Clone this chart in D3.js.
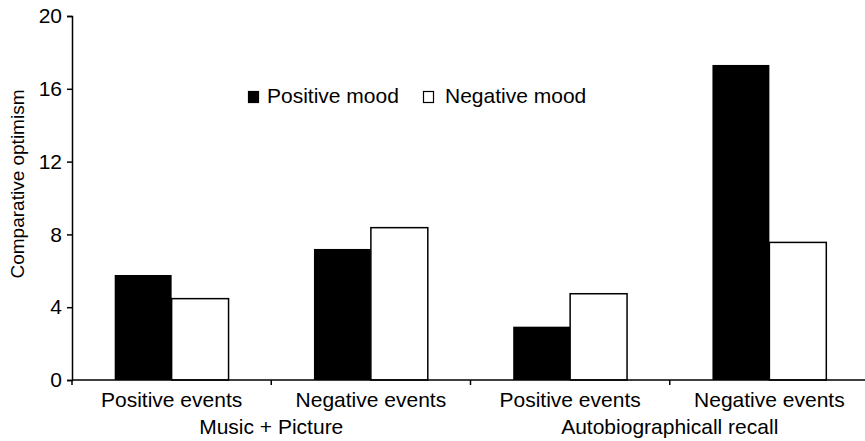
<!DOCTYPE html>
<html>
<head>
<meta charset="utf-8">
<script src="https://cdn.jsdelivr.net/npm/d3@7"></script>
<style>
  body { margin: 0; background: #fff; }
  text { font-family: "Liberation Sans", Arial, Helvetica, sans-serif; fill: #000; }
</style>
</head>
<body>
<svg id="chart" width="865" height="441"></svg>
<script>
//////////////////// DATA ////////////////////
const groups = ["Music + Picture", "Autobiographicall recall"];
const eventTypes = ["Positive events", "Negative events"];
const series = ["Positive mood", "Negative mood"];
const positiveMood = [5.77, 7.2, 2.93, 17.31];
const negativeMood = [4.47, 8.37, 4.74, 7.56];
const yTicks = [0, 4, 8, 12, 16, 20];

// one row per bar cluster
const categories = [];
groups.forEach(g => eventTypes.forEach(e => categories.push({ group: g, event: e })));
categories.forEach((c, i) => {
    c.key = i;
    c.values = [positiveMood[i], negativeMood[i]];
});

//////////////////// SIZES ////////////////////
const svg = d3.select("#chart");
const plot = { left: 72, right: 869, top: 16, bottom: 380 };
const fill = { "Positive mood": "#000", "Negative mood": "#fff" };

//////////////////// SCALES ////////////////////
const x0 = d3.scaleBand()
    .domain(categories.map(d => d.key))
    .range([plot.left, plot.right]);

const x1 = d3.scaleBand()
    .domain(series)
    .range([0, x0.bandwidth()])
    .paddingOuter(0.75);

const y = d3.scaleLinear()
    .domain([0, 20])
    .range([plot.bottom, plot.top]);

//////////////////// BARS ////////////////////
const cluster = svg.selectAll(".cluster")
    .data(categories)
    .enter()
    .append("g")
    .attr("class", "cluster")
    .attr("transform", d => `translate(${x0(d.key)},0)`);

cluster.selectAll("rect")
    .data(d => d.values.map((v, i) => ({ s: series[i], v: v })))
    .enter()
    .append("rect")
    .attr("x", d => x1(d.s))
    .attr("width", x1.bandwidth())
    .attr("y", d => y(d.v))
    .attr("height", d => y(0) - y(d.v))
    .attr("fill", d => fill[d.s])
    .attr("stroke", d => d.s === "Negative mood" ? "#000" : "none")
    .attr("stroke-width", 1.5);

//////////////////// AXES ////////////////////
const yAxis = d3.axisLeft(y)
    .tickValues(yTicks)
    .tickSizeOuter(0)
    .tickSize(5)
    .tickPadding(5);

const yAxisGroup = svg.append("g")
    .attr("transform", `translate(${plot.left},0)`)
    .call(yAxis);

yAxisGroup.selectAll("text")
    .style("font-size", "21px")
    .attr("font-family", null);
yAxisGroup.selectAll("line, path")
    .attr("stroke", "#000")
    .attr("stroke-width", 1.5);

// x-axis baseline and separators between clusters
svg.append("line")
    .attr("x1", plot.left)
    .attr("x2", plot.right + 5)
    .attr("y1", y(0))
    .attr("y2", y(0))
    .attr("stroke", "#000")
    .attr("stroke-width", 1.5);

const tickXs = categories.map(d => x0(d.key)).concat([plot.right]);
svg.selectAll(".xtick")
    .data(tickXs)
    .enter()
    .append("line")
    .attr("class", "xtick")
    .attr("x1", d => d)
    .attr("x2", d => d)
    .attr("y1", y(0))
    .attr("y2", y(0) + 5)
    .attr("stroke", "#000")
    .attr("stroke-width", 1.5);

// event labels
svg.selectAll(".eventLabel")
    .data(categories)
    .enter()
    .append("text")
    .attr("class", "eventLabel")
    .attr("x", d => x0(d.key) + x0.bandwidth() / 2)
    .attr("y", 407)
    .attr("text-anchor", "middle")
    .style("font-size", "21px")
    .text(d => d.event);

// group labels
svg.selectAll(".groupLabel")
    .data(groups)
    .enter()
    .append("text")
    .attr("class", "groupLabel")
    .attr("x", g => {
        const keys = categories.filter(c => c.group === g).map(c => c.key);
        return (x0(keys[0]) + x0(keys[keys.length - 1]) + x0.bandwidth()) / 2;
    })
    .attr("y", 434)
    .attr("text-anchor", "middle")
    .style("font-size", "21px")
    .text(g => g);

// y label
svg.append("text")
    .attr("transform", "translate(24,184) rotate(-90)")
    .attr("text-anchor", "middle")
    .style("font-size", "19px")
    .text("Comparative optimism");

//////////////////// LEGEND ////////////////////
const legendItems = [
    { s: series[0], x: 248 },
    { s: series[1], x: 423 }
];

const legend = svg.selectAll(".legend")
    .data(legendItems)
    .enter()
    .append("g")
    .attr("class", "legend")
    .attr("transform", d => `translate(${d.x},91)`);

legend.append("rect")
    .attr("x", 0.5)
    .attr("y", 0.5)
    .attr("width", 10)
    .attr("height", 11)
    .attr("fill", d => fill[d.s])
    .attr("stroke", "#000")
    .attr("stroke-width", 1.2);

legend.append("text")
    .attr("x", d => d.s === "Positive mood" ? 19 : 22)
    .attr("y", 12)
    .style("font-size", "21px")
    .text(d => d.s);
</script>
</body>
</html>
